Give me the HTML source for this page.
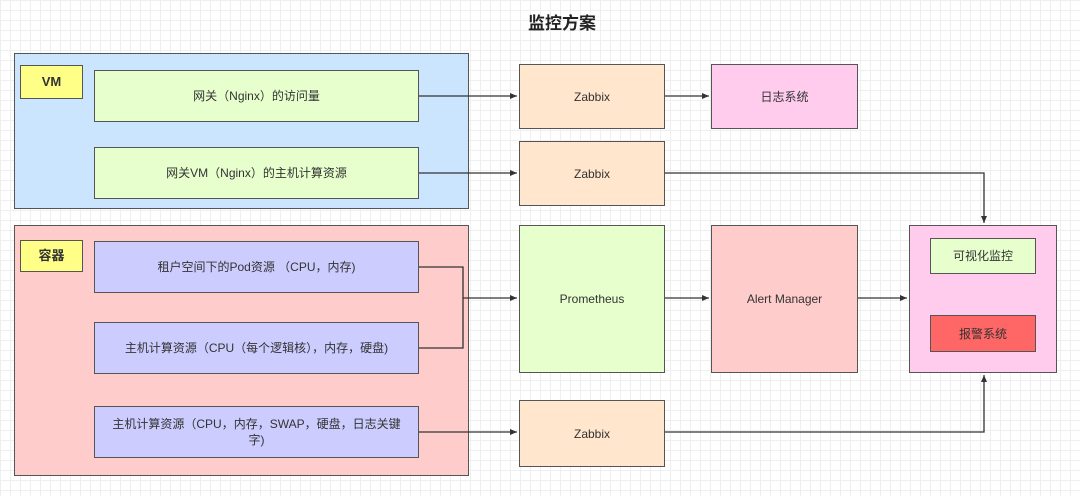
<!DOCTYPE html>
<html><head><meta charset="utf-8"><style>
body{margin:0;width:1080px;height:496px;overflow:hidden;background-color:#fff;
background-image:linear-gradient(#efefef 1px,transparent 1px),linear-gradient(90deg,#efefef 1px,transparent 1px);background-size:10px 10px;
font-family:"Liberation Sans","Noto Sans CJK SC",sans-serif;position:relative}
.b{position:absolute;box-sizing:border-box;border:1.5px solid #555;display:flex;align-items:center;justify-content:center;text-align:center;font-size:12px;color:#333;line-height:16px}
svg{position:absolute;left:0;top:0}
</style></head><body>
<div style="position:absolute;left:0;width:1124px;top:9px;text-align:center;font-size:17px;font-weight:bold;color:#222">监控方案</div>
<div class="b" style="left:14px;top:53px;width:455px;height:156px;background:#cce5ff"></div>
<div class="b" style="left:20px;top:65px;width:63px;height:34px;background:#ffff88;font-weight:bold;font-size:13px">VM</div>
<div class="b" style="left:94px;top:70px;width:325px;height:52px;background:#e6ffcc">网关（Nginx）的访问量</div>
<div class="b" style="left:94px;top:147px;width:325px;height:52px;background:#e6ffcc">网关VM（Nginx）的主机计算资源</div>
<div class="b" style="left:14px;top:225px;width:455px;height:251px;background:#ffcccc"></div>
<div class="b" style="left:20px;top:240px;width:63px;height:32px;background:#ffff88;font-weight:bold;font-size:13px">容器</div>
<div class="b" style="left:94px;top:241px;width:325px;height:52px;background:#ccccff">租户空间下的Pod资源 （CPU，内存)</div>
<div class="b" style="left:94px;top:322px;width:325px;height:52px;background:#ccccff">主机计算资源（CPU（每个逻辑核），内存，硬盘)</div>
<div class="b" style="left:94px;top:406px;width:325px;height:52px;background:#ccccff;padding:0 14px">主机计算资源（CPU，内存，SWAP，硬盘，日志关键字)</div>
<div class="b" style="left:519px;top:64px;width:146px;height:65px;background:#ffe6cc">Zabbix</div>
<div class="b" style="left:711px;top:64px;width:147px;height:65px;background:#ffccee">日志系统</div>
<div class="b" style="left:519px;top:141px;width:146px;height:65px;background:#ffe6cc">Zabbix</div>
<div class="b" style="left:519px;top:225px;width:146px;height:148px;background:#e6ffcc">Prometheus</div>
<div class="b" style="left:711px;top:225px;width:147px;height:148px;background:#ffcccc">Alert Manager</div>
<div class="b" style="left:909px;top:225px;width:148px;height:148px;background:#ffccee"></div>
<div class="b" style="left:930px;top:238px;width:106px;height:36px;background:#e6ffcc">可视化监控</div>
<div class="b" style="left:930px;top:315px;width:106px;height:37px;background:#ff6666">报警系统</div>
<div class="b" style="left:519px;top:400px;width:146px;height:67px;background:#ffe6cc">Zabbix</div>
<svg width="1080" height="496">
<defs><marker id="a" markerWidth="8" markerHeight="8" refX="7" refY="4" orient="auto" markerUnits="userSpaceOnUse"><path d="M0,1 L7,4 L0,7 z" fill="#333"/></marker></defs>
<g stroke="#333" stroke-width="1.3" fill="none">
<path d="M419,96 H517" marker-end="url(#a)"/>
<path d="M665,96 H709" marker-end="url(#a)"/>
<path d="M419,173 H517" marker-end="url(#a)"/>
<path d="M665,173 H984 V223" marker-end="url(#a)"/>
<path d="M419,267 H463 V348 H419"/>
<path d="M463,298 H517" marker-end="url(#a)"/>
<path d="M665,298 H709" marker-end="url(#a)"/>
<path d="M858,298 H907" marker-end="url(#a)"/>
<path d="M419,432 H517" marker-end="url(#a)"/>
<path d="M665,432 H984 V375" marker-end="url(#a)"/>
</g></svg>
</body></html>
